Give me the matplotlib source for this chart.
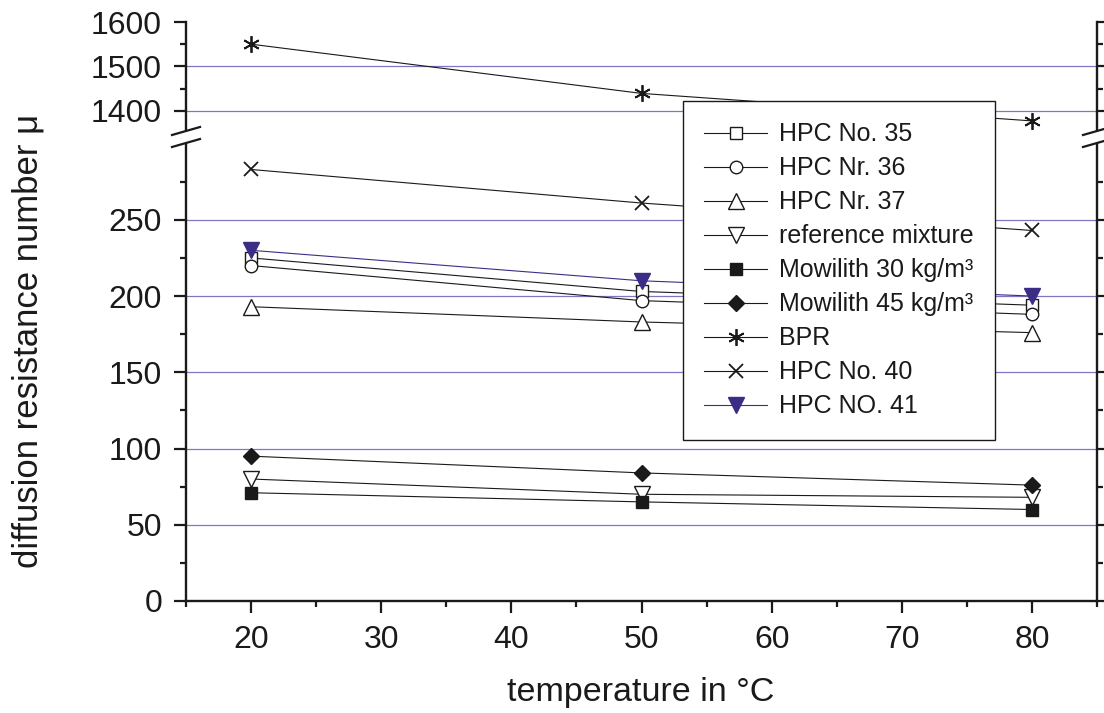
import matplotlib
matplotlib.use("Agg")
import matplotlib.pyplot as plt
from matplotlib.ticker import MultipleLocator, FixedLocator
from matplotlib.lines import Line2D
from matplotlib.patches import Polygon

plt.rcParams['font.family'] = ['Liberation Sans', 'DejaVu Sans']

# data
temps = [20, 50, 80]
hpc35 = [225, 203, 194]
hpc36 = [220, 197, 188]
hpc37 = [193, 183, 176]
ref_mix = [80, 70, 68]
mow30 = [71, 65, 60]
mow45 = [95, 84, 76]
bpr = [1550, 1439, 1377]
hpc40 = [283, 261, 243]
hpc41 = [230, 210, 200]

labels = ['HPC No. 35', 'HPC Nr. 36', 'HPC Nr. 37', 'reference mixture',
          'Mowilith 30 kg/m³', 'Mowilith 45 kg/m³', 'BPR', 'HPC No. 40', 'HPC NO. 41']

lo_ticks = [0, 50, 100, 150, 200, 250]
hi_ticks = [1400, 1500, 1600]
x_ticks = [20, 30, 40, 50, 60, 70, 80]

BLK = '#1a1a1a'
BLUE = '#3b2d85'
GRID = '#8075c2'

W, H = 1104, 713
fig = plt.figure(figsize=(W / 100, H / 100), dpi=100)

def fx(px):
    return px / W

def fy(py):
    return 1 - py / H

left, right, ytop, ybrk, ybot = 186, 1097, 22, 133.5, 601
ax_lo = fig.add_axes([fx(left), fy(ybot), (right - left) / W, (ybot - ybrk) / H])
ax_hi = fig.add_axes([fx(left), fy(ybrk), (right - left) / W, (ybrk - ytop) / H])

ax_lo.set_ylim(0, 306.6)
ax_hi.set_ylim(1348.6, 1600)
for ax in (ax_lo, ax_hi):
    ax.set_xlim(15, 85)
    ax.spines['top'].set_visible(False)
    for s in ('left', 'right', 'bottom'):
        ax.spines[s].set_linewidth(1.7)
        ax.spines[s].set_color(BLK)
    ax.tick_params(which='both', direction='out', width=1.6, color=BLK,
                   right=True, labelsize=23, pad=8.6, labelcolor='#1a1a1a')
    ax.tick_params(which='major', length=8.6)
    ax.tick_params(which='minor', length=4.5)
    ax.patch.set_alpha(0)

ax_hi.spines['bottom'].set_visible(False)
ax_hi.tick_params(axis='x', which='both', bottom=False, labelbottom=False)

ax_lo.set_yticks(lo_ticks)
ax_lo.yaxis.set_minor_locator(FixedLocator([25, 75, 125, 175, 225, 275]))
ax_hi.set_yticks(hi_ticks)
ax_hi.yaxis.set_minor_locator(FixedLocator([1350, 1450, 1550]))
ax_lo.set_xticks(x_ticks)
ax_lo.xaxis.set_minor_locator(MultipleLocator(5))

for v in lo_ticks[1:]:
    ax_lo.axhline(v, color=GRID, lw=0.9, zorder=0)
for v in hi_ticks[:-1]:
    ax_hi.axhline(v, color=GRID, lw=0.9, zorder=0)

series = [
    (ax_lo, hpc35, 's', 'white', BLK, 8),
    (ax_lo, hpc36, 'o', 'white', BLK, 9),
    (ax_lo, hpc37, '^', 'white', BLK, 11),
    (ax_lo, ref_mix, 'v', 'white', BLK, 11),
    (ax_lo, mow30, 's', BLK, BLK, 8),
    (ax_lo, mow45, 'D', BLK, BLK, 8),
    (ax_hi, bpr, (6, 2, 0), BLK, BLK, 12),
    (ax_lo, hpc40, 'x', BLK, BLK, 10),
    (ax_lo, hpc41, 'v', BLUE, BLUE, 11),
]
handles = []
for ax, vals, mk, fc, ec, ms in series:
    col = BLUE if ec == BLUE else BLK
    mew = 1.3 if mk in ('x', (6, 2, 0)) else 1.0
    ax.plot(temps, vals, color=col, lw=0.8, marker=mk, markersize=ms,
            markerfacecolor=fc, markeredgecolor=ec, markeredgewidth=mew,
            zorder=3, clip_on=False)
    handles.append(Line2D([], [], color=col, lw=0.8, marker=mk, markersize=ms,
                          markerfacecolor=fc, markeredgecolor=ec,
                          markeredgewidth=mew))

leg = fig.legend(handles, labels, loc='upper left', bbox_to_anchor=(fx(683), fy(101)),
                 borderaxespad=0, fontsize=18, numpoints=1, handlelength=2.5,
                 handletextpad=0.5, labelspacing=0.4, borderpad=0.85,
                 fancybox=False, framealpha=1, edgecolor=BLK)
leg.get_frame().set_linewidth(1.0)
for t in leg.get_texts():
    t.set_color('#1a1a1a')

# axis break marks on both spines
for xs in (left, right):
    gap = Polygon([(fx(xs - 14), fy(135)), (fx(xs + 14), fy(127)),
                   (fx(xs + 14), fy(139)), (fx(xs - 14), fy(147))],
                  closed=True, transform=fig.transFigure, facecolor='white',
                  edgecolor='none', zorder=6)
    fig.add_artist(gap)
    for y0 in (135, 147):
        fig.add_artist(Line2D([fx(xs - 14), fx(xs + 14)], [fy(y0), fy(y0 - 8)],
                              transform=fig.transFigure, color=BLK, lw=1.6, zorder=7))

fig.text(fx(28), fy(341), 'diffusion resistance number μ', rotation=90,
         ha='center', va='center', fontsize=25, color='#1a1a1a')
fig.text(fx(641), fy(692), 'temperature in °C', ha='center', va='center',
         fontsize=24.5, color='#1a1a1a')

fig.savefig('out.png', dpi=100)
